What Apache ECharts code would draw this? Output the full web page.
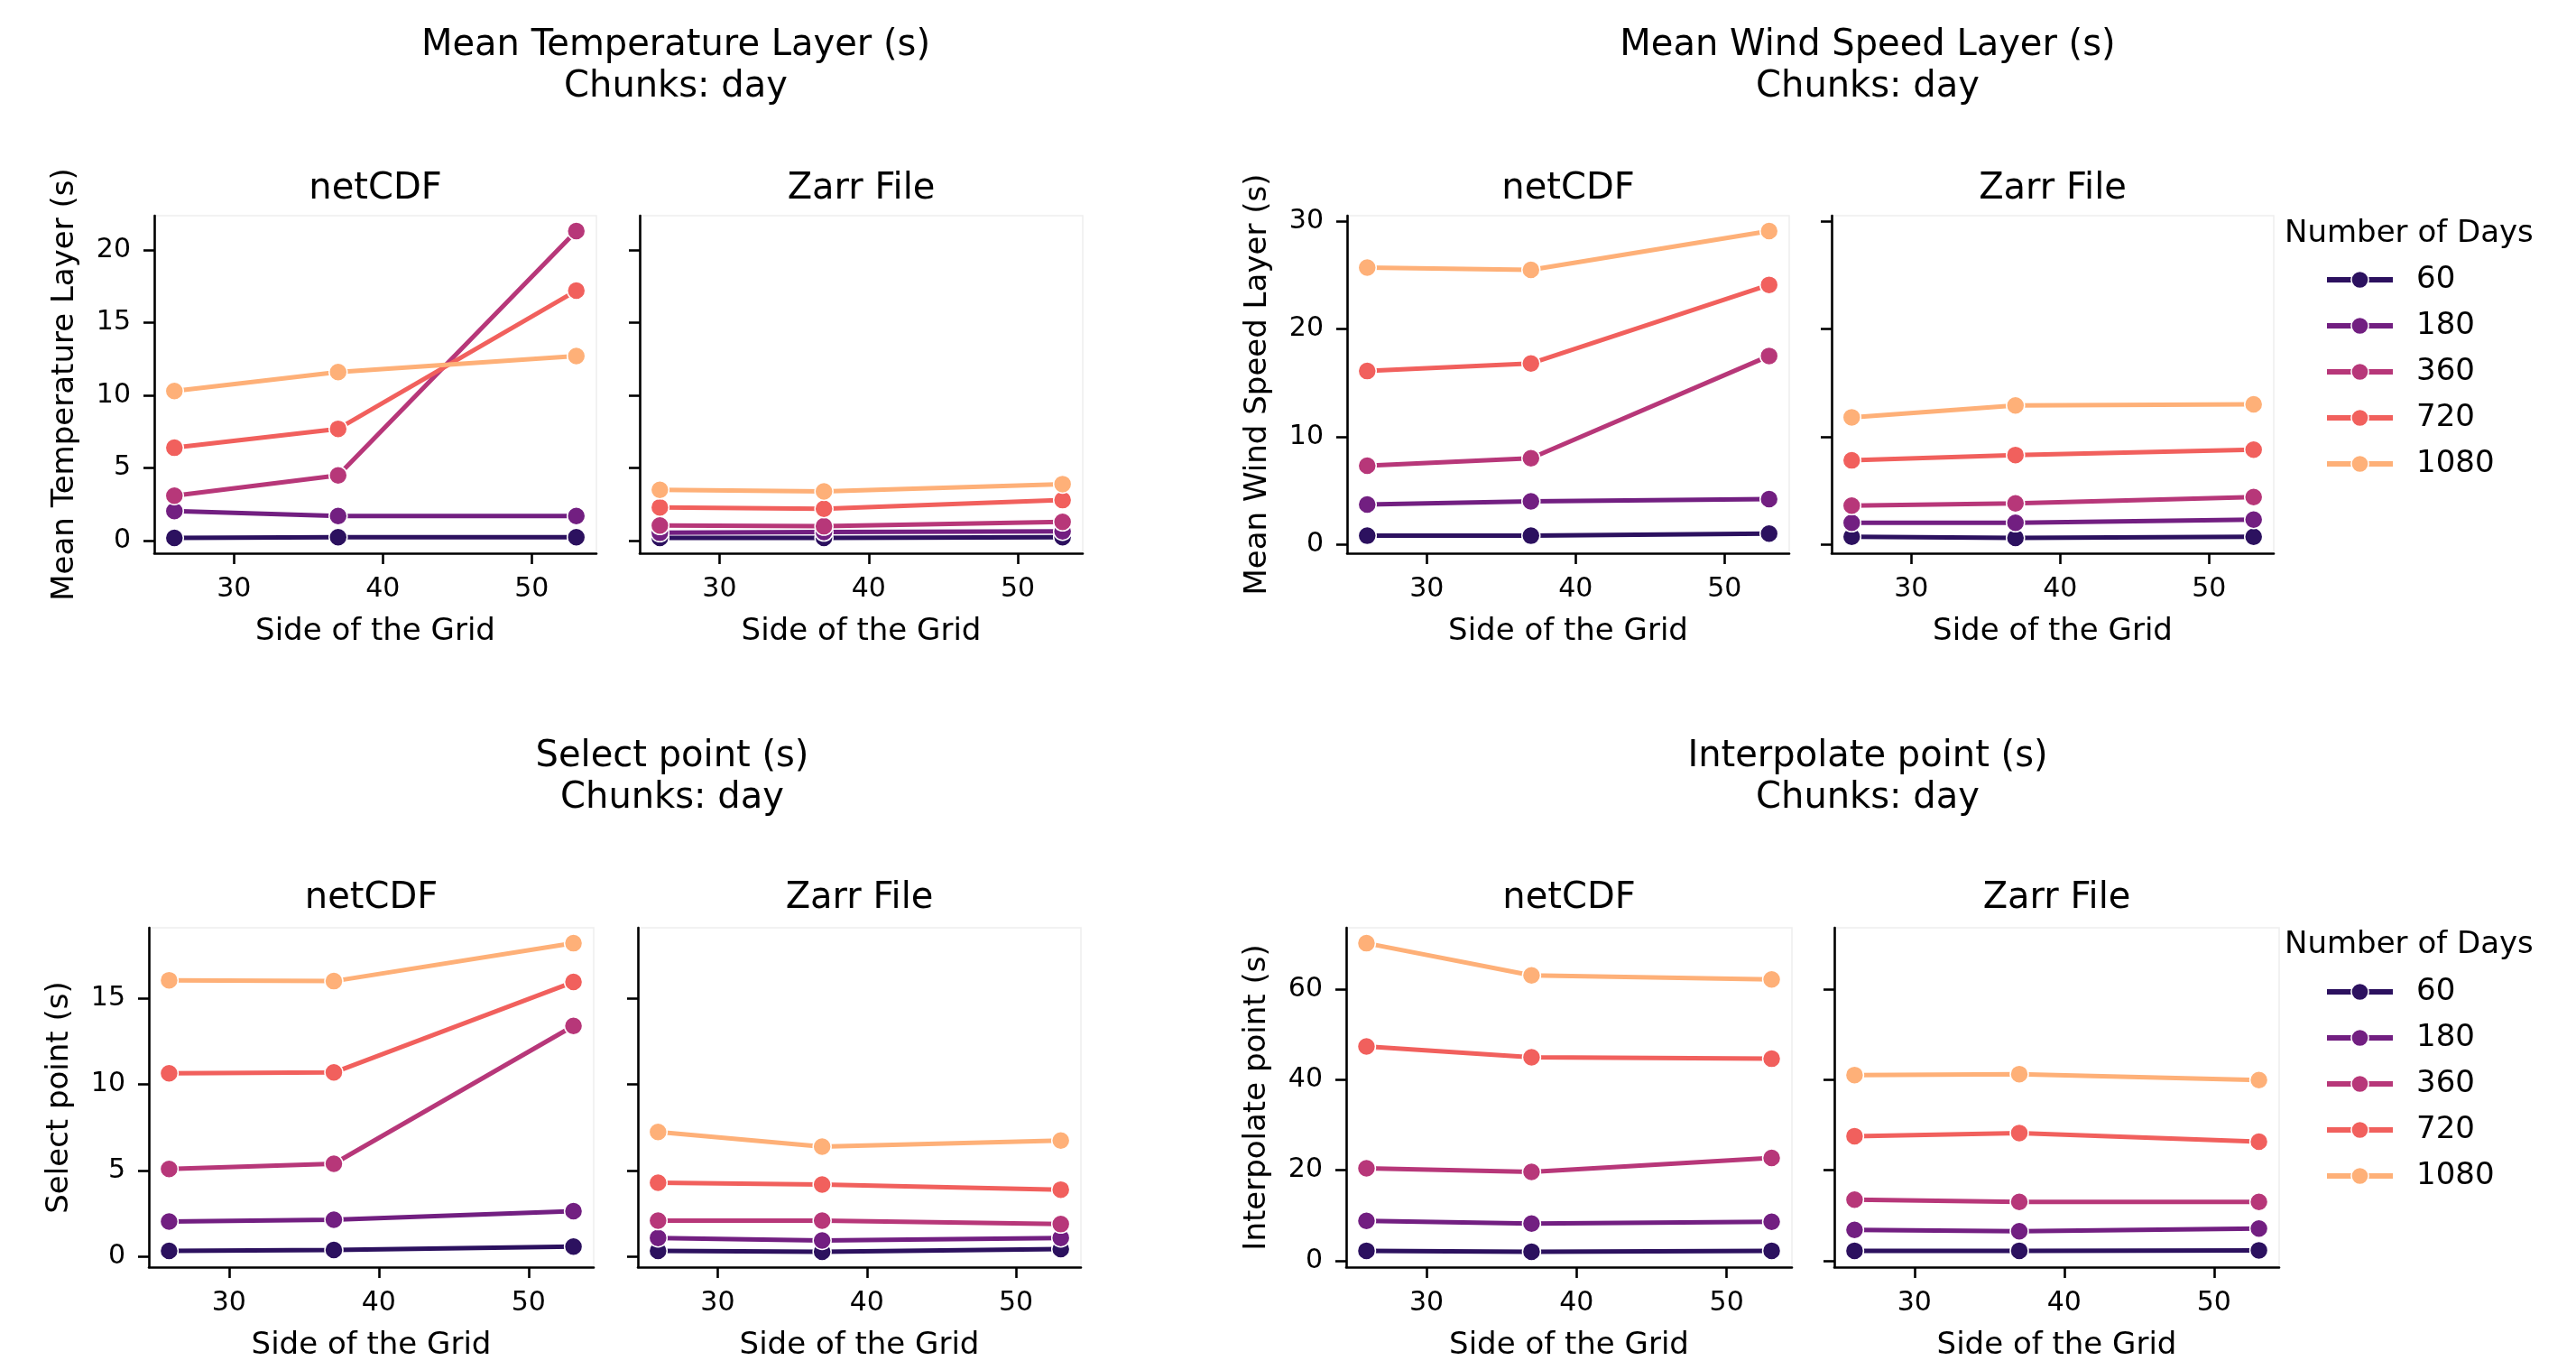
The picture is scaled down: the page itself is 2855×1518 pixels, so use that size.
<!DOCTYPE html>
<html>
<head>
<meta charset="utf-8">
<script src="https://cdn.jsdelivr.net/npm/echarts@6/dist/echarts.min.js"></script>
<style>
html,body{margin:0;padding:0;background:#fff;}
#chart{width:2855px;height:1518px;}
</style>
</head>
<body>
<div id="chart"></div>
<script>
// ---- data ----
const sideOfGrid = [26, 37, 53];
const dayLabels = ['60', '180', '360', '720', '1080'];
const palette = ['#2c115f', '#721f81', '#b73779', '#f1605d', '#feb078'];

// rows: one array per number of days (60,180,360,720,1080); columns: side 26,37,53
const tempNetcdf = [[0.2, 0.25, 0.25], [2.05, 1.7, 1.7], [3.1, 4.5, 21.3], [6.4, 7.7, 17.2], [10.3, 11.6, 12.7]];
const tempZarr   = [[0.2, 0.2, 0.25], [0.55, 0.6, 0.65], [1.05, 1.0, 1.3], [2.3, 2.2, 2.8], [3.5, 3.4, 3.9]];
const windNetcdf = [[0.8, 0.8, 1.0], [3.7, 4.0, 4.2], [7.3, 8.0, 17.5], [16.1, 16.8, 24.1], [25.7, 25.5, 29.1]];
const windZarr   = [[0.7, 0.6, 0.7], [2.0, 2.0, 2.3], [3.6, 3.8, 4.4], [7.8, 8.3, 8.8], [11.8, 12.9, 13.0]];
const selNetcdf  = [[0.35, 0.4, 0.6], [2.05, 2.15, 2.65], [5.1, 5.4, 13.4], [10.65, 10.7, 15.95], [16.05, 16.0, 18.2]];
const selZarr    = [[0.35, 0.3, 0.45], [1.1, 0.95, 1.1], [2.1, 2.1, 1.9], [4.3, 4.2, 3.9], [7.25, 6.4, 6.75]];
const interpNetcdf = [[2.2, 2.0, 2.2], [8.8, 8.2, 8.6], [20.4, 19.6, 22.7], [47.3, 44.9, 44.6], [70.1, 63.0, 62.1]];
const interpZarr   = [[2.2, 2.2, 2.3], [6.8, 6.5, 7.1], [13.5, 13.0, 13.0], [27.5, 28.2, 26.3], [41.0, 41.2, 39.9]];

const xTicks = [30, 40, 50];
const tempTicks = [0, 5, 10, 15, 20];
const windTicks = [0, 10, 20, 30];
const selTicks = [0, 5, 10, 15];
const interpTicks = [0, 20, 40, 60];

const mainTitles = ['Mean Temperature Layer (s)\nChunks: day', 'Mean Wind Speed Layer (s)\nChunks: day',
                    'Select point (s)\nChunks: day', 'Interpolate point (s)\nChunks: day'];
const yNames = ['Mean Temperature Layer (s)', 'Mean Wind Speed Layer (s)', 'Select point (s)', 'Interpolate point (s)'];
const panelTitles = ['netCDF', 'Zarr File'];
const xName = 'Side of the Grid';
const legendTitle = 'Number of Days';

// ---- layout ----
const FONT = 'DejaVu Sans';
const panels = [
  {data: tempNetcdf, share: [tempNetcdf, tempZarr], ticks: tempTicks, left: 171, top: 239, h: 374, w: 490, yName: yNames[0]},
  {data: tempZarr,   share: [tempNetcdf, tempZarr], ticks: tempTicks, left: 709, top: 239, h: 374, w: 491, yName: null},
  {data: windNetcdf, share: [windNetcdf, windZarr], ticks: windTicks, left: 1493, top: 239, h: 374, w: 490, yName: yNames[1]},
  {data: windZarr,   share: [windNetcdf, windZarr], ticks: windTicks, left: 2030, top: 239, h: 374, w: 490, yName: null},
  {data: selNetcdf,  share: [selNetcdf, selZarr], ticks: selTicks, left: 165, top: 1028, h: 376, w: 493, yName: yNames[2]},
  {data: selZarr,    share: [selNetcdf, selZarr], ticks: selTicks, left: 707, top: 1028, h: 376, w: 491, yName: null},
  {data: interpNetcdf, share: [interpNetcdf, interpZarr], ticks: interpTicks, left: 1492, top: 1028, h: 376, w: 494, yName: yNames[3]},
  {data: interpZarr,   share: [interpNetcdf, interpZarr], ticks: interpTicks, left: 2033, top: 1028, h: 376, w: 493, yName: null}
];

function padRange(vals) {
  const lo = Math.min(...vals), hi = Math.max(...vals);
  const m = (hi - lo) * 0.05;
  return [lo - m, hi + m];
}
const xr = padRange(sideOfGrid);

const grids = [], xAxes = [], yAxes = [], series = [], titles = [];
const axisLineStyle = {color: '#000', width: 2.6};

panels.forEach((p, i) => {
  grids.push({left: p.left, top: p.top, width: p.w, height: p.h, show: true, borderColor: '#eeeeee', borderWidth: 1.5, containLabel: false});
  xAxes.push({
    type: 'value', gridIndex: i, min: xr[0], max: xr[1],
    name: xName, nameLocation: 'middle', nameGap: 70,
    nameTextStyle: {fontFamily: FONT, fontSize: 34, color: '#000'},
    axisLine: {show: true, onZero: false, lineStyle: axisLineStyle},
    axisTick: {show: true, length: 12, lineStyle: axisLineStyle, customValues: xTicks},
    axisLabel: {show: true, fontFamily: FONT, fontSize: 30, color: '#000', margin: 25, customValues: xTicks},
    splitLine: {show: false}
  });
  const all = [].concat(...p.share.map(a => [].concat(...a)));
  const yr = padRange(all);
  yAxes.push({
    type: 'value', gridIndex: i, min: yr[0], max: yr[1],
    name: p.yName || '', nameLocation: 'middle', nameGap: 82,
    nameTextStyle: {fontFamily: FONT, fontSize: 34, color: '#000'},
    axisLine: {show: true, onZero: false, lineStyle: axisLineStyle},
    axisTick: {show: true, length: 12, lineStyle: axisLineStyle, customValues: p.ticks},
    axisLabel: {show: !!p.yName, fontFamily: FONT, fontSize: 30, color: '#000', margin: 26, customValues: p.ticks},
    splitLine: {show: false}
  });
  p.data.forEach((vals, k) => {
    series.push({
      type: 'line', name: dayLabels[k], xAxisIndex: i, yAxisIndex: i,
      data: sideOfGrid.map((x, j) => [x, vals[j]]),
      symbol: 'circle', symbolSize: 20, showSymbol: true,
      lineStyle: {color: palette[k], width: 5},
      itemStyle: {color: palette[k], borderColor: '#ffffff', borderWidth: 1.5},
      emphasis: {disabled: true}, animation: false, z: 2 + k
    });
  });
  titles.push({
    text: panelTitles[i % 2], left: p.left + p.w / 2, top: (i < 4 ? 190 : 976), textAlign: 'center', padding: 0,
    textStyle: {fontFamily: FONT, fontSize: 40, fontWeight: 'normal', color: '#000', lineHeight: 40}
  });
});

const mainPos = [[749, 28], [2070, 28], [745, 816], [2070, 816]];
mainTitles.forEach((t, i) => {
  titles.push({
    text: t, left: mainPos[i][0], top: mainPos[i][1], textAlign: 'center', padding: 0,
    textStyle: {fontFamily: FONT, fontSize: 40, fontWeight: 'normal', color: '#000', lineHeight: 46, align: 'center'}
  });
});
[242, 1030].forEach(t => {
  titles.push({
    text: legendTitle, left: 2532, top: t, padding: 0,
    textStyle: {fontFamily: FONT, fontSize: 34, fontWeight: 'normal', color: '#000', lineHeight: 34}
  });
});

function makeLegend(top) {
  return {
    data: dayLabels, orient: 'vertical', left: 2576, top: top, padding: 0,
    itemWidth: 73, itemHeight: 24, itemGap: 17, selectedMode: false,
    lineStyle: {width: 6},
    itemStyle: {borderColor: '#ffffff', borderWidth: 1.5},
    textStyle: {fontFamily: FONT, fontSize: 34, color: '#000', lineHeight: 34, padding: [0, 0, 0, 21]}
  };
}

const chart = echarts.init(document.getElementById('chart'), null, {renderer: 'canvas'});
chart.setOption({
  backgroundColor: '#ffffff',
  animation: false,
  title: titles,
  legend: [makeLegend(293), makeLegend(1082)],
  grid: grids,
  xAxis: xAxes,
  yAxis: yAxes,
  series: series
});
</script>
</body>
</html>
